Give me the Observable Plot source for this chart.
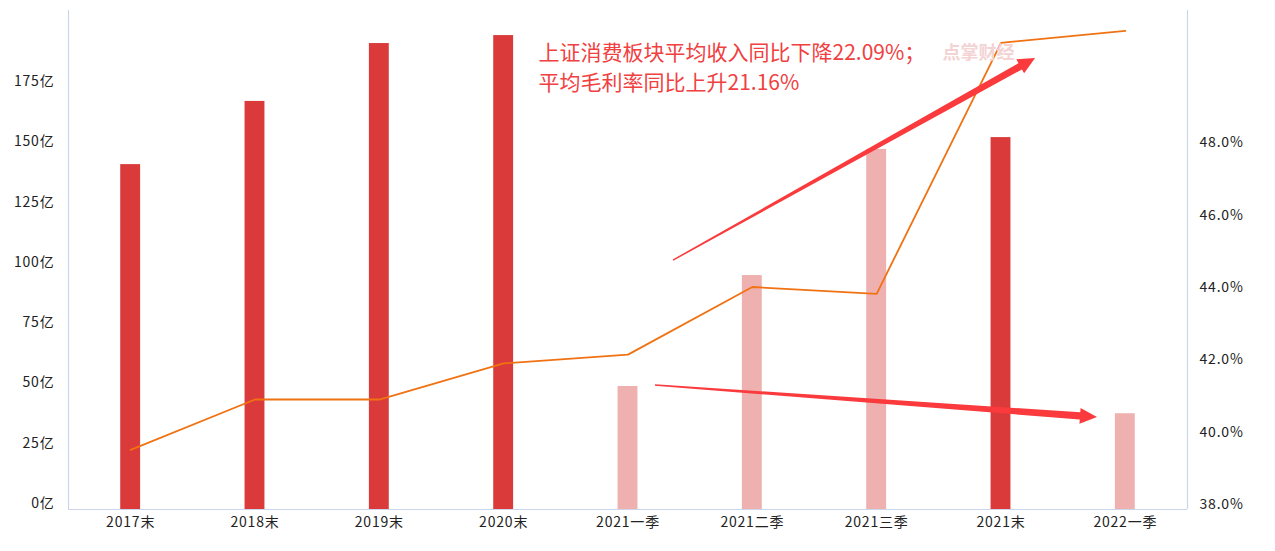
<!DOCTYPE html>
<html>
<head>
<meta charset="utf-8">
<script src="https://cdn.jsdelivr.net/npm/d3@7"></script>
<script src="https://cdn.jsdelivr.net/npm/@observablehq/plot@0.6"></script>
<style>
  html, body { margin: 0; padding: 0; background: #fff; }
  #chart svg { display: block; }
  #chart svg g[aria-label$="tick label"] text { letter-spacing: 0.8px; }
</style>
</head>
<body>
<div id="chart"></div>
<script>
// ---- data ----
const categories = ["2017末", "2018末", "2019末", "2020末", "2021一季", "2021二季", "2021三季", "2021末", "2022一季"];
const revenue = [143, 169.2, 193.2, 196.5, 51, 97, 149.3, 154.2, 39.7];           // 亿
const periodKind = ["year", "year", "year", "year", "quarter", "quarter", "quarter", "year", "quarter"];
const grossMargin = [39.65, 41.04, 41.04, 42.04, 42.28, 44.15, 43.96, 50.9, 51.23]; // %
const leftTicks = [0, 25, 50, 75, 100, 125, 150, 175];
const rightTicks = [38, 40, 42, 44, 46, 48];
const annotationLines = ["上证消费板块平均收入同比下降22.09%；", "平均毛利率同比上升21.16%"];
const annotationY = [189.1, 176.6];
const annotationX = 3.28;
const watermark = "点掌财经";
// arrows in data units (x = category index, y = 亿)
const arrowX1 = [4.366, 4.221];
const arrowY1 = [103.2, 51.4];
const arrowX2 = [7.278, 7.776];
const arrowY2 = [187.0, 38.1];

// secondary axis mapping: percent -> left units
const pctBase = 38, pctScale = 15;
const toLeft = p => (p - pctBase) * pctScale;
const fromLeft = v => v / pctScale + pctBase;

const idx = d3.range(categories.length);
const axisColor = "#ccd6eb";
const font = "'Noto Sans CJK SC', 'Noto Sans', sans-serif";

function taperedArrows(index, scales, values, dimensions, context) {
  const g = d3.create("svg:g");
  for (let k = 0; k < arrowX1.length; k++) {
    const x1 = scales.x(arrowX1[k]), y1 = scales.y(arrowY1[k]);
    const x2 = scales.x(arrowX2[k]), y2 = scales.y(arrowY2[k]);
    const dx = x2 - x1, dy = y2 - y1, len = Math.hypot(dx, dy);
    const ux = dx / len, uy = dy / len, nx = -uy, ny = ux;
    const headLen = 17, headW = 8, w0 = 0.7, w1 = 3.6;
    const bx = x2 - ux * headLen, by = y2 - uy * headLen;
    const pts = [
      [x1 + nx * w0, y1 + ny * w0],
      [bx + nx * w1, by + ny * w1],
      [bx + nx * headW, by + ny * headW],
      [x2, y2],
      [bx - nx * headW, by - ny * headW],
      [bx - nx * w1, by - ny * w1],
      [x1 - nx * w0, y1 - ny * w0]
    ];
    g.append("path").attr("d", "M" + pts.map(p => p.join(",")).join("L") + "Z").attr("fill", "#fa3a3c");
  }
  return g.node();
}

const chart = Plot.plot({
  width: 1275,
  height: 551,
  marginLeft: 68,
  marginRight: 88,
  marginTop: 10,
  marginBottom: 42,
  style: { fontFamily: font, fontSize: "14px", color: "#222", background: "#fff" },
  x: { type: "linear", domain: [-0.5, 8.5] },
  y: { domain: [0, 206.9] },
  marks: [
    Plot.rectY(idx, {
      x1: i => i - 0.08, x2: i => i + 0.08, y1: 0, y2: i => revenue[i],
      fill: i => periodKind[i] === "year" ? "#db3a3a" : "#efb0b0"
    }),
    Plot.ruleX([-0.5, 8.5], { stroke: axisColor, strokeWidth: 1.2 }),
    Plot.ruleY([0], { stroke: axisColor, strokeWidth: 1.2 }),
    Plot.line(idx, { x: i => i, y: i => toLeft(grossMargin[i]), stroke: "#f07212", strokeWidth: 1.8 }),
    Plot.text([watermark], { x: 6.53, y: 189, text: d => d, textAnchor: "start", fill: "#f3d3d3", fontSize: 18, fontWeight: "bold" }),
    taperedArrows,
    Plot.text(annotationLines, { x: annotationX, y: (d, i) => annotationY[i], text: d => d, textAnchor: "start", fill: "#f0403f", fontSize: 21 }),
    Plot.axisX(idx, { tickFormat: i => categories[i], tickSize: 0, tickPadding: 8, fontSize: 14, fill: "#222", label: null }),
    Plot.axisY(leftTicks, { anchor: "left", tickFormat: d => d + "亿", tickSize: 0, tickPadding: 14, dy: -6, fontSize: 14, fill: "#222", label: null }),
    Plot.axisY(rightTicks.map(toLeft), { anchor: "right", tickFormat: d => fromLeft(d).toFixed(1) + "%", tickSize: 0, tickPadding: 12, dy: -5, fontSize: 14, fill: "#222", label: null })
  ]
});
document.getElementById("chart").appendChild(chart);
</script>
</body>
</html>
